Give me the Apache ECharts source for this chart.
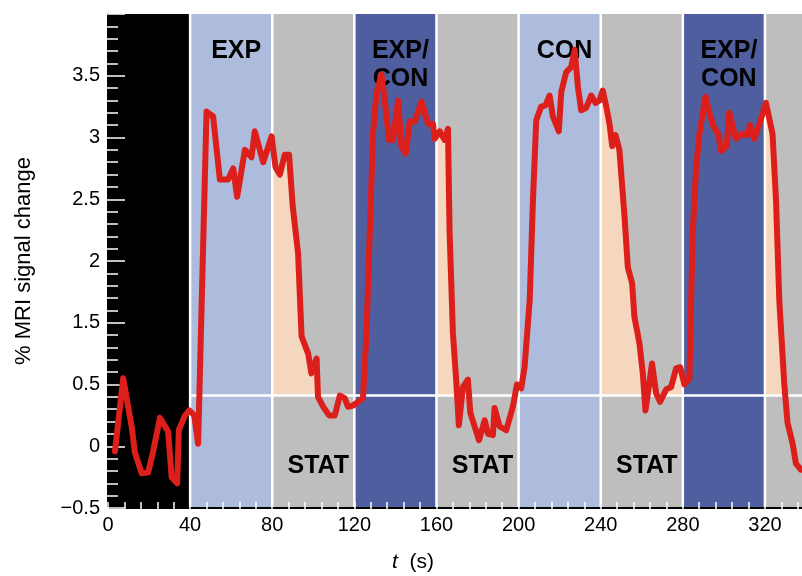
<!DOCTYPE html>
<html><head><meta charset="utf-8">
<script src="https://cdn.jsdelivr.net/npm/echarts@6/dist/echarts.min.js"></script>
<style>html,body{margin:0;padding:0;background:#fff}#c{width:802px;height:576px}</style>
</head><body><div id="c"></div>
<script>
const times = [3.4, 7.4, 11.5, 13.1, 16.4, 19.6, 21.9, 25.3, 29.3, 31.0,
  33.7, 34.5, 37.5, 39.6, 42.0, 43.9, 48.0, 51.2, 54.5, 58.5,
  61.0, 62.9, 66.7, 69.9, 71.5, 75.6, 79.7, 81.6, 83.7, 86.1,
  88.2, 90.0, 92.6, 94.3, 97.5, 99.1, 101.6, 102.3, 104.8, 107.7,
  110.5, 112.9, 115.3, 116.9, 119.4, 124.2, 125.9, 127.5, 129.1, 130.8,
  133.2, 134.8, 136.9, 138.8, 141.3, 142.9, 145.0, 147.0, 149.4, 152.7,
  155.9, 158.3, 159.1, 161.6, 164.0, 165.6, 166.4, 168.0, 169.7, 170.9,
  172.9, 175.3, 176.5, 180.7, 183.5, 185.1, 187.5, 188.3, 190.8, 194.0,
  197.2, 199.2, 201.3, 202.9, 205.4, 207.0, 208.6, 211.0, 213.1, 215.1,
  216.7, 219.6, 220.8, 223.2, 225.6, 227.3, 228.9, 230.5, 232.9, 235.4,
  237.5, 239.4, 241.0, 242.7, 244.3, 245.6, 247.2, 249.1, 251.6, 253.2,
  255.3, 256.4, 258.9, 260.5, 261.8, 263.7, 265.0, 267.0, 268.9, 271.9,
  274.3, 276.7, 278.7, 280.8, 283.2, 284.8, 286.5, 288.1, 291.0, 292.9,
  294.9, 297.5, 298.6, 301.4, 302.6, 305.9, 308.8, 311.6, 312.7, 314.8,
  317.3, 320.5, 323.7, 325.4, 327.0, 329.4, 331.0, 333.5, 335.1, 337.5];
const signal = [0.46, 1.05, 0.66, 0.45, 0.28, 0.29, 0.45, 0.73, 0.62, 0.25,
  0.20, 0.63, 0.75, 0.79, 0.75, 0.52, 3.21, 3.17, 2.66, 2.66,
  2.75, 2.52, 2.90, 2.84, 3.05, 2.80, 3.01, 2.76, 2.70, 2.86,
  2.86, 2.44, 2.06, 1.39, 1.25, 1.09, 1.21, 0.90, 0.82, 0.75,
  0.75, 0.91, 0.89, 0.82, 0.83, 0.89, 1.42, 2.23, 3.04, 3.36,
  3.51, 3.30, 2.98, 2.98, 3.30, 2.93, 2.87, 3.13, 3.13, 3.29,
  3.11, 3.11, 2.99, 3.05, 2.98, 3.07, 2.23, 1.42, 1.01, 0.67,
  0.98, 1.04, 0.77, 0.55, 0.71, 0.60, 0.59, 0.81, 0.66, 0.63,
  0.82, 1.00, 0.97, 1.14, 1.68, 2.49, 3.14, 3.25, 3.26, 3.34,
  3.17, 3.05, 3.37, 3.53, 3.57, 3.71, 3.41, 3.22, 3.24, 3.34,
  3.28, 3.30, 3.38, 3.25, 3.11, 2.93, 3.02, 2.90, 2.36, 1.95,
  1.82, 1.55, 1.33, 1.09, 0.79, 1.01, 1.17, 0.93, 0.86, 0.96,
  0.98, 1.13, 1.14, 1.00, 1.05, 2.23, 2.76, 3.03, 3.33, 3.20,
  3.09, 3.02, 2.89, 2.93, 3.20, 2.99, 3.03, 3.02, 3.10, 2.99,
  3.11, 3.28, 3.03, 2.49, 1.68, 1.01, 0.69, 0.52, 0.36, 0.31];
const bandEdges = [0, 40, 80, 120, 160, 200, 240, 280, 320, 340];
const bandKinds = ['rest', 'EXP', 'STAT', 'EXP/CON', 'STAT', 'CON', 'STAT', 'EXP/CON', 'STAT'];
const bandLabels = ['', 'EXP', 'STAT', 'EXP/\nCON', 'STAT', 'CON', 'STAT', 'EXP/\nCON', ''];
const statLevel = 0.91;
const xTickLabels = [0, 40, 80, 120, 160, 200, 240, 280, 320];
const yTickValues = [0, 0.5, 1, 1.5, 2, 2.5, 3, 3.5];
const yTickLabels = ['\u22120.5', '0', '0.5', '1.5', '2', '2.5', '3', '3.5'];

const FONT = '"Liberation Sans", Arial, Helvetica, sans-serif';
const Y_MIN = 0, Y_MAX = 4, X_MIN = 0, X_MAX = 340;
const kindColor = { rest: '#000000', EXP: '#adbcdc', CON: '#adbcdc', 'EXP/CON': '#4f5e9e', STAT: '#bebebe' };

const bandData = bandKinds.map((k, i) => [bandEdges[i], bandEdges[i + 1]]);
const lineData = times.map((t, i) => [t, signal[i]]);

const chart = echarts.init(document.getElementById('c'), null, { renderer: 'canvas' });
const tickStyle = { color: '#ffffff', width: 1.5 };
const yBase = { type: 'value', min: Y_MIN, max: Y_MAX, interval: 0.5, splitLine: { show: false }, minorSplitLine: { show: false } };
chart.setOption({
  animation: false,
  backgroundColor: '#ffffff',
  grid: { left: 108, right: -4, top: 14, bottom: 68, show: true, backgroundColor: '#bebebe', borderWidth: 0, containLabel: false, outerBoundsMode: 'none' },
  xAxis: [
    { type: 'value', position: 'bottom', min: X_MIN, max: X_MAX, interval: 8, offset: 1, z: 4,
      axisLine: { show: true, lineStyle: { color: '#cccccc', width: 2 } },
      axisTick: { show: true, inside: true, length: 6, lineStyle: tickStyle },
      minorTick: { show: false }, splitLine: { show: false },
      axisLabel: { show: true, formatter: v => (xTickLabels.indexOf(v) >= 0 ? String(v) : ''), fontSize: 20, color: '#000', fontFamily: FONT, margin: 6, showMaxLabel: false, hideOverlap: false } },
    { type: 'value', position: 'top', min: X_MIN, max: X_MAX, interval: 8, offset: 2, z: 4,
      axisLine: { show: true, lineStyle: { color: '#000000', width: 2 } },
      axisTick: { show: true, inside: true, length: 10, lineStyle: tickStyle },
      axisLabel: { show: false }, splitLine: { show: false } }
  ],
  yAxis: [
    Object.assign({}, yBase, { position: 'left', offset: 3, z: 4,
      axisLine: { show: true, lineStyle: { color: '#000000', width: 2 } },
      axisTick: { show: false }, minorTick: { show: false },
      axisLabel: { formatter: v => { const i = yTickValues.indexOf(Math.round(v * 100) / 100); return i >= 0 ? yTickLabels[i] : ''; },
        fontSize: 20, color: '#000', fontFamily: FONT, margin: 5, showMaxLabel: false, hideOverlap: false },
      name: '% MRI signal change', nameLocation: 'middle', nameGap: 70, nameRotate: 90,
      nameTextStyle: { fontSize: 22, color: '#000', fontFamily: FONT } }),
    Object.assign({}, yBase, { position: 'right', z: 4,
      axisLine: { show: false },
      axisTick: { show: true, inside: true, length: 16, lineStyle: tickStyle },
      minorTick: { show: true, splitNumber: 5, length: 8, lineStyle: tickStyle },
      axisLabel: { show: false } }),
    Object.assign({}, yBase, { position: 'left', offset: 0, z: 4,
      axisLine: { show: false },
      axisTick: { show: true, inside: true, length: 17, lineStyle: tickStyle },
      minorTick: { show: true, splitNumber: 5, length: 10, lineStyle: tickStyle },
      axisLabel: { show: false } })
  ],
  graphic: [
    { type: 'text', left: 392, top: 552, z: 10,
      style: { text: '{i|t}  (s)', font: '21px ' + FONT, fill: '#000',
        rich: { i: { fontStyle: 'italic', fontSize: 21, fontFamily: FONT } } } }
  ],
  series: [
    { type: 'line', z: 1, data: lineData, showSymbol: false, symbol: 'none', silent: true,
      lineStyle: { width: 0, opacity: 0 },
      areaStyle: { color: '#f5d7bf', opacity: 1, origin: statLevel } },
    { type: 'custom', z: 2, data: bandData, silent: true,
      renderItem: (params, api) => {
        const k = bandKinds[params.dataIndex];
        const top = k === 'STAT' ? statLevel : Y_MAX;
        const p0 = api.coord([api.value(0), top]);
        const p1 = api.coord([api.value(1), Y_MIN]);
        return { type: 'rect', shape: { x: p0[0], y: p0[1], width: p1[0] - p0[0], height: p1[1] - p0[1] },
          style: { fill: kindColor[k] } };
      } },
    { type: 'custom', z: 3, data: bandEdges.slice(1, -1).map(t => [t, 0]), silent: true,
      renderItem: (params, api) => {
        const a = api.coord([api.value(0), Y_MIN]);
        const b = api.coord([api.value(0), Y_MAX]);
        return { type: 'line', shape: { x1: a[0], y1: a[1], x2: b[0], y2: b[1] },
          style: { stroke: '#ffffff', lineWidth: 2.5 } };
      } },
    { type: 'line', z: 3, silent: true, showSymbol: false, symbol: 'none',
      data: [[bandEdges[1], statLevel], [bandEdges[bandEdges.length - 1], statLevel]],
      lineStyle: { color: '#ffffff', width: 2.5 } },
    { type: 'custom', z: 5, data: bandData, silent: true,
      renderItem: (params, api) => {
        const lab = bandLabels[params.dataIndex];
        if (!lab) return null;
        const isStat = bandKinds[params.dataIndex] === 'STAT';
        const c = api.coord([(api.value(0) + api.value(1)) / 2, isStat ? 0.34 : 3.81]);
        return { type: 'text', x: c[0] + 5, y: c[1],
          style: { text: lab, font: 'bold 25px ' + FONT, fill: '#000', align: 'center',
            verticalAlign: isStat ? 'middle' : 'top', lineHeight: 28 } };
      } },
    { type: 'line', z: 6, data: lineData, showSymbol: false, symbol: 'none', silent: true,
      lineStyle: { color: '#dc1f1b', width: 6, join: 'round', cap: 'round' } }
  ]
});
</script></body></html>
